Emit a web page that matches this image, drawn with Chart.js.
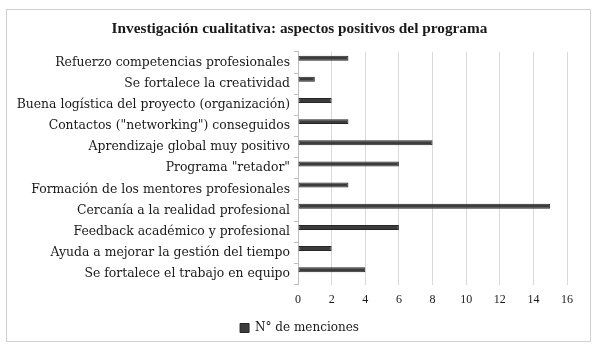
<!DOCTYPE html>
<html><head><meta charset="utf-8">
<script src="https://cdn.jsdelivr.net/npm/chart.js@4/dist/chart.umd.min.js"></script>
<style>html,body{margin:0;padding:0;background:#fff}#wrap{width:600px;height:356px;position:relative}</style>
</head><body><div id="wrap"><canvas id="c" width="600" height="356"></canvas></div>
<script>
const categories = [
  'Refuerzo competencias profesionales',
  'Se fortalece la creatividad',
  'Buena logística del proyecto (organización)',
  'Contactos ("networking") conseguidos',
  'Aprendizaje global muy positivo',
  'Programa "retador"',
  'Formación de los mentores profesionales',
  'Cercanía a la realidad profesional',
  'Feedback académico y profesional',
  'Ayuda a mejorar la gestión del tiempo',
  'Se fortalece el trabajo en equipo'
];
const menciones = [3, 1, 2, 3, 8, 6, 3, 15, 6, 2, 4];
const emptySeries = [null, null, null, null, null, null, null, null, null, null, null];
const seriesName = 'N° de menciones';
const chartTitle = 'Investigación cualitativa: aspectos positivos del programa';
const xTicksMax = 16;
const xTickStep = 2;

const FONT = "'Liberation Serif', serif";
const FONT2 = "'DejaVu Serif', serif";
const borderPlugin = {
  id: 'frame',
  beforeDraw(chart) {
    const ctx = chart.ctx;
    ctx.save();
    ctx.fillStyle = '#fff';
    ctx.fillRect(0, 0, chart.width, chart.height);
    ctx.strokeStyle = '#d0d0d0';
    ctx.lineWidth = 1;
    ctx.strokeRect(6.5, 9.5, 584, 332);
    ctx.restore();
  }
};

new Chart(document.getElementById('c'), {
  type: 'bar',
  data: {
    labels: categories,
    datasets: [{
      label: seriesName,
      data: menciones,
      backgroundColor: '#3c3c3c',
      borderColor: '#262626',
      borderWidth: 1,
      borderSkipped: false,
      categoryPercentage: 0.81,
      barPercentage: 0.58
    }, {
      label: '',
      data: emptySeries,
      backgroundColor: 'rgba(0,0,0,0)',
      categoryPercentage: 0.81,
      barPercentage: 0.58
    }]
  },
  options: {
    indexAxis: 'y',
    responsive: false,
    animation: false,
    layout: { padding: { left: 16, right: 17, top: 0, bottom: 12 } },
    plugins: {
      title: {
        display: true,
        text: chartTitle,
        color: '#1a1a1a',
        font: { family: FONT, size: 15.3, weight: 'bold' },
        padding: { top: 20, bottom: 13.5 }
      },
      legend: {
        position: 'bottom',
        labels: {
          color: '#1a1a1a',
          font: { family: FONT2, size: 12 },
          boxWidth: 9,
          boxHeight: 9,
          padding: 6,
          filter: (item) => item.datasetIndex === 0
        }
      },
      tooltip: { enabled: false }
    },
    scales: {
      x: {
        min: 0,
        max: xTicksMax,
        afterFit(scale) { scale.paddingRight = 33; },
        ticks: { stepSize: xTickStep, color: '#1a1a1a', font: { family: FONT, size: 12 }, padding: 8.5 },
        grid: { color: '#d9d9d9', drawTicks: false },
        border: { display: false }
      },
      y: {
        afterFit(scale) { scale.width = 282; },
        ticks: { color: '#1a1a1a', font: { family: FONT2, size: 12.4 }, padding: 4, autoSkip: false },
        grid: { drawOnChartArea: false, tickLength: 4, color: '#bfbfbf', offset: true },
        border: { display: true, color: '#bfbfbf' }
      }
    }
  },
  plugins: [borderPlugin]
});
</script>
</body></html>
